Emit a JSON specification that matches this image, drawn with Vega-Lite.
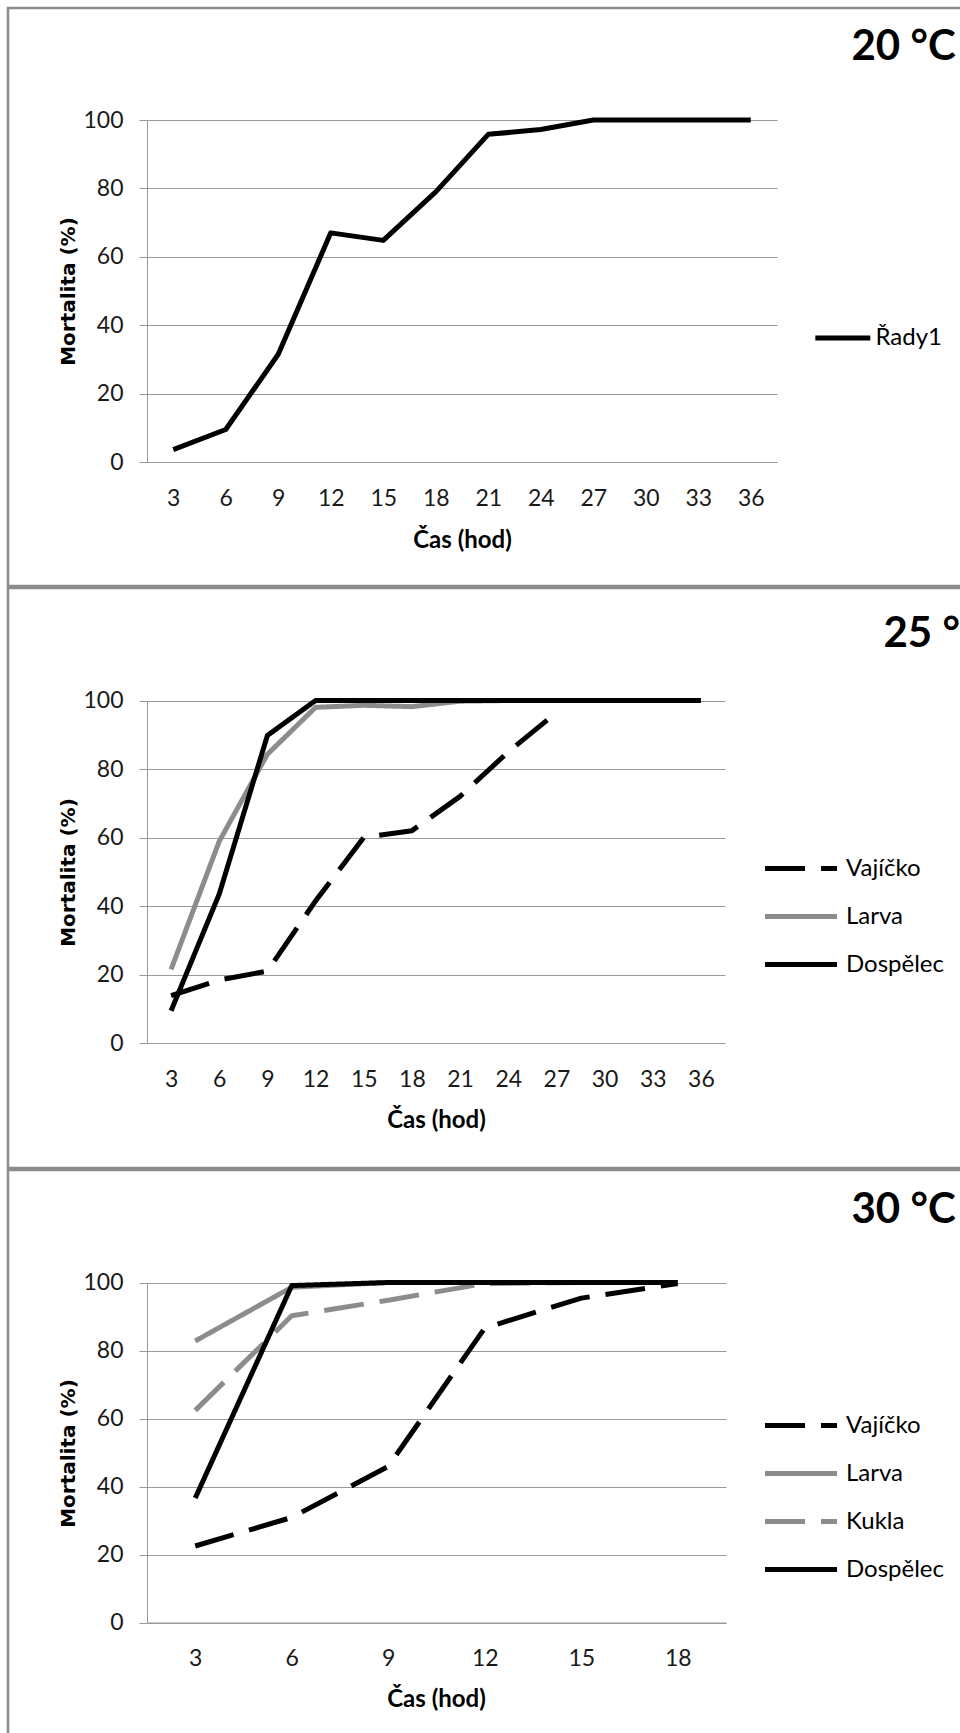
{
  "$schema": "https://vega.github.io/schema/vega-lite/v6.json",
  "background": "white",
  "padding": {"left": 6, "top": 6, "right": 0, "bottom": 0},
  "spacing": -2.5,
  "resolve": {
    "scale": {"color": "independent", "strokeDash": "independent", "x": "independent", "y": "independent"},
    "legend": {"color": "independent", "strokeDash": "independent"}
  },
  "config": {
    "view": {"stroke": "#8c8c8c", "strokeWidth": 2.5},
    "font": "Lato"
  },
  "datasets": {
    "p20": [
      {"cas": 3, "stadium": "Řady1", "mortalita": 3.6},
      {"cas": 6, "stadium": "Řady1", "mortalita": 9.5},
      {"cas": 9, "stadium": "Řady1", "mortalita": 31.5},
      {"cas": 12, "stadium": "Řady1", "mortalita": 67},
      {"cas": 15, "stadium": "Řady1", "mortalita": 64.8},
      {"cas": 18, "stadium": "Řady1", "mortalita": 79},
      {"cas": 21, "stadium": "Řady1", "mortalita": 95.8},
      {"cas": 24, "stadium": "Řady1", "mortalita": 97.2},
      {"cas": 27, "stadium": "Řady1", "mortalita": 100},
      {"cas": 30, "stadium": "Řady1", "mortalita": 100},
      {"cas": 33, "stadium": "Řady1", "mortalita": 100},
      {"cas": 36, "stadium": "Řady1", "mortalita": 100}
    ],
    "p25": [
      {"cas": 3, "stadium": "Vajíčko", "mortalita": 13.8},
      {"cas": 6, "stadium": "Vajíčko", "mortalita": 18.4},
      {"cas": 9, "stadium": "Vajíčko", "mortalita": 21},
      {"cas": 12, "stadium": "Vajíčko", "mortalita": 41.5},
      {"cas": 15, "stadium": "Vajíčko", "mortalita": 60},
      {"cas": 18, "stadium": "Vajíčko", "mortalita": 62},
      {"cas": 21, "stadium": "Vajíčko", "mortalita": 72},
      {"cas": 24, "stadium": "Vajíčko", "mortalita": 85},
      {"cas": 27, "stadium": "Vajíčko", "mortalita": 96.5},
      {"cas": 3, "stadium": "Larva", "mortalita": 21.5},
      {"cas": 6, "stadium": "Larva", "mortalita": 58.9},
      {"cas": 9, "stadium": "Larva", "mortalita": 84.3},
      {"cas": 12, "stadium": "Larva", "mortalita": 98},
      {"cas": 15, "stadium": "Larva", "mortalita": 98.6},
      {"cas": 18, "stadium": "Larva", "mortalita": 98.2},
      {"cas": 21, "stadium": "Larva", "mortalita": 99.8},
      {"cas": 24, "stadium": "Larva", "mortalita": 100},
      {"cas": 27, "stadium": "Larva", "mortalita": 100},
      {"cas": 30, "stadium": "Larva", "mortalita": 100},
      {"cas": 33, "stadium": "Larva", "mortalita": 100},
      {"cas": 36, "stadium": "Larva", "mortalita": 100},
      {"cas": 3, "stadium": "Dospělec", "mortalita": 9.4},
      {"cas": 6, "stadium": "Dospělec", "mortalita": 43.5},
      {"cas": 9, "stadium": "Dospělec", "mortalita": 89.8},
      {"cas": 12, "stadium": "Dospělec", "mortalita": 100},
      {"cas": 15, "stadium": "Dospělec", "mortalita": 100},
      {"cas": 18, "stadium": "Dospělec", "mortalita": 100},
      {"cas": 21, "stadium": "Dospělec", "mortalita": 100},
      {"cas": 24, "stadium": "Dospělec", "mortalita": 100},
      {"cas": 27, "stadium": "Dospělec", "mortalita": 100},
      {"cas": 30, "stadium": "Dospělec", "mortalita": 100},
      {"cas": 33, "stadium": "Dospělec", "mortalita": 100},
      {"cas": 36, "stadium": "Dospělec", "mortalita": 100}
    ],
    "p30": [
      {"cas": 3, "stadium": "Vajíčko", "mortalita": 22.5},
      {"cas": 6, "stadium": "Vajíčko", "mortalita": 30.9},
      {"cas": 9, "stadium": "Vajíčko", "mortalita": 45.9},
      {"cas": 12, "stadium": "Vajíčko", "mortalita": 86.6},
      {"cas": 15, "stadium": "Vajíčko", "mortalita": 95.4},
      {"cas": 18, "stadium": "Vajíčko", "mortalita": 99.7},
      {"cas": 3, "stadium": "Larva", "mortalita": 82.8},
      {"cas": 6, "stadium": "Larva", "mortalita": 98.6},
      {"cas": 9, "stadium": "Larva", "mortalita": 100},
      {"cas": 12, "stadium": "Larva", "mortalita": 100},
      {"cas": 15, "stadium": "Larva", "mortalita": 100},
      {"cas": 18, "stadium": "Larva", "mortalita": 100},
      {"cas": 3, "stadium": "Kukla", "mortalita": 62.4},
      {"cas": 6, "stadium": "Kukla", "mortalita": 90.2},
      {"cas": 9, "stadium": "Kukla", "mortalita": 94.8},
      {"cas": 12, "stadium": "Kukla", "mortalita": 99.7},
      {"cas": 15, "stadium": "Kukla", "mortalita": 100},
      {"cas": 18, "stadium": "Kukla", "mortalita": 100},
      {"cas": 3, "stadium": "Dospělec", "mortalita": 36.6},
      {"cas": 6, "stadium": "Dospělec", "mortalita": 99.1},
      {"cas": 9, "stadium": "Dospělec", "mortalita": 100},
      {"cas": 12, "stadium": "Dospělec", "mortalita": 100},
      {"cas": 15, "stadium": "Dospělec", "mortalita": 100},
      {"cas": 18, "stadium": "Dospělec", "mortalita": 100}
    ]
  },
  "vconcat": [
    {
      "width": 960,
      "height": 578,
      "data": {"name": "p20"},
      "resolve": {"axis": {"x": "independent"}},
      "layer": [
        {
          "mark": {"type": "line", "strokeWidth": 5, "strokeJoin": "round"},
          "encoding": {
            "x": {
              "field": "cas", "type": "ordinal",
              "scale": {"type": "point", "padding": 0.5, "domain": [3, 6, 9, 12, 15, 18, 21, 24, 27, 30, 33, 36], "range": [139, 769]},
              "axis": {"orient": "bottom", "title": "Čas (hod)", "offset": -124, "grid": false, "ticks": false, "tickSize": 0, "labelPadding": 25, "labelAngle": 0, "domainColor": "#999999", "domainWidth": 1, "labelFont": "Lato", "labelFontSize": 23, "labelColor": "#1a1a1a", "titleFont": "Lato", "titleFontWeight": "bold", "titleFontSize": 24, "titleColor": "#000", "titleX": 454, "titleY": 78, "titleBaseline": "middle", "titleAlign": "center"}
            },
            "y": {
              "field": "mortalita", "type": "quantitative",
              "scale": {"domain": [0, 100], "nice": false, "range": [454, 112]},
              "axis": {"title": "Mortalita (%)", "values": [0, 20, 40, 60, 80, 100], "offset": -139, "grid": true, "gridColor": "#999999", "gridWidth": 1, "domainColor": "#999999", "tickColor": "#999999", "tickSize": 8, "labelPadding": 16, "labelFont": "Lato", "labelFontSize": 23, "labelColor": "#1a1a1a", "titleFont": "DejaVu Sans", "titleFontSize": 20, "titleFontWeight": "bold", "titleColor": "#000", "titleX": -79, "titleY": 283, "titleBaseline": "middle", "titleAlign": "center", "titleAngle": -90}
            },
            "color": {
              "field": "stadium", "type": "nominal",
              "scale": {"domain": ["Řady1"], "range": ["#000000"]},
              "legend": {"orient": "none", "legendX": 804.5, "legendY": 318, "title": null, "padding": 0, "symbolType": "M-1,0H5", "symbolSize": 336, "symbolStrokeWidth": 5, "labelFont": "Lato", "labelFontSize": 24, "labelColor": "#000", "labelOffset": 39, "rowPadding": 21}
            }
          }
        },
        {
          "mark": {"type": "point", "opacity": 0},
          "encoding": {
            "x": {
              "field": "cas", "type": "ordinal",
              "axis": {"orient": "top", "title": "20 °C", "offset": 0, "labels": false, "ticks": false, "domain": false, "grid": false, "titleFont": "Lato", "titleFontSize": 42, "titleFontWeight": "bold", "titleColor": "#000", "titleX": 843, "titleY": 51, "titleAlign": "left", "titleBaseline": "alphabetic", "titleAngle": 0}
            }
          }
        }
      ]
    },
    {
      "width": 960,
      "height": 580,
      "data": {"name": "p25"},
      "resolve": {"axis": {"x": "independent"}},
      "layer": [
        {
          "mark": {"type": "line", "strokeWidth": 5, "strokeJoin": "round"},
          "encoding": {
            "x": {
              "field": "cas", "type": "ordinal",
              "scale": {"type": "point", "padding": 0.5, "domain": [3, 6, 9, 12, 15, 18, 21, 24, 27, 30, 33, 36], "range": [139, 717]},
              "axis": {"orient": "bottom", "title": "Čas (hod)", "offset": -125, "grid": false, "ticks": false, "tickSize": 0, "labelPadding": 25, "labelAngle": 0, "domainColor": "#999999", "domainWidth": 1, "labelFont": "Lato", "labelFontSize": 23, "labelColor": "#1a1a1a", "titleFont": "Lato", "titleFontWeight": "bold", "titleFontSize": 24, "titleColor": "#000", "titleX": 428, "titleY": 77, "titleBaseline": "middle", "titleAlign": "center"}
            },
            "y": {
              "field": "mortalita", "type": "quantitative",
              "scale": {"domain": [0, 100], "nice": false, "range": [455, 112.5]},
              "axis": {"title": "Mortalita (%)", "values": [0, 20, 40, 60, 80, 100], "offset": -139, "grid": true, "gridColor": "#999999", "gridWidth": 1, "domainColor": "#999999", "tickColor": "#999999", "tickSize": 8, "labelPadding": 16, "labelFont": "Lato", "labelFontSize": 23, "labelColor": "#1a1a1a", "titleFont": "DejaVu Sans", "titleFontSize": 20, "titleFontWeight": "bold", "titleColor": "#000", "titleX": -79, "titleY": 284, "titleBaseline": "middle", "titleAlign": "center", "titleAngle": -90}
            },
            "color": {
              "field": "stadium", "type": "nominal",
              "scale": {"domain": ["Vajíčko", "Larva", "Dospělec"], "range": ["#000000", "#8c8c8c", "#000000"]},
              "legend": {"orient": "none", "legendX": 754.5, "legendY": 266, "title": null, "padding": 0, "symbolType": "M-1,0H5", "symbolSize": 576, "symbolStrokeWidth": 5, "labelFont": "Lato", "labelFontSize": 24, "labelColor": "#000", "labelOffset": 54.5, "rowPadding": 21}
            },
            "strokeDash": {
              "field": "stadium", "type": "nominal",
              "scale": {"domain": ["Vajíčko", "Larva", "Dospělec"], "range": [[40, 16], [1, 0], [1, 0]]},
              "legend": {"orient": "none", "legendX": 754.5, "legendY": 266, "title": null, "padding": 0, "symbolType": "M-1,0H5", "symbolSize": 576, "symbolStrokeWidth": 5, "labelFont": "Lato", "labelFontSize": 24, "labelColor": "#000", "labelOffset": 54.5, "rowPadding": 21}
            }
          }
        },
        {
          "mark": {"type": "point", "opacity": 0},
          "encoding": {
            "x": {
              "field": "cas", "type": "ordinal",
              "axis": {"orient": "top", "title": "25 °C", "offset": 0, "labels": false, "ticks": false, "domain": false, "grid": false, "titleFont": "Lato", "titleFontSize": 42, "titleFontWeight": "bold", "titleColor": "#000", "titleX": 875, "titleY": 58, "titleAlign": "left", "titleBaseline": "alphabetic", "titleAngle": 0}
            }
          }
        }
      ]
    },
    {
      "width": 960,
      "height": 580,
      "data": {"name": "p30"},
      "resolve": {"axis": {"x": "independent"}},
      "layer": [
        {
          "mark": {"type": "line", "strokeWidth": 5, "strokeJoin": "round"},
          "encoding": {
            "x": {
              "field": "cas", "type": "ordinal",
              "scale": {"type": "point", "padding": 0.5, "domain": [3, 6, 9, 12, 15, 18], "range": [139, 718]},
              "axis": {"orient": "bottom", "title": "Čas (hod)", "offset": -127.5, "grid": false, "ticks": false, "tickSize": 0, "labelPadding": 25, "labelAngle": 0, "domainColor": "#999999", "domainWidth": 1, "labelFont": "Lato", "labelFontSize": 23, "labelColor": "#1a1a1a", "titleFont": "Lato", "titleFontWeight": "bold", "titleFontSize": 24, "titleColor": "#000", "titleX": 428, "titleY": 77, "titleBaseline": "middle", "titleAlign": "center"}
            },
            "y": {
              "field": "mortalita", "type": "quantitative",
              "scale": {"domain": [0, 100], "nice": false, "range": [452.5, 112.5]},
              "axis": {"title": "Mortalita (%)", "values": [0, 20, 40, 60, 80, 100], "offset": -139, "grid": true, "gridColor": "#999999", "gridWidth": 1, "domainColor": "#999999", "tickColor": "#999999", "tickSize": 8, "labelPadding": 16, "labelFont": "Lato", "labelFontSize": 23, "labelColor": "#1a1a1a", "titleFont": "DejaVu Sans", "titleFontSize": 20, "titleFontWeight": "bold", "titleColor": "#000", "titleX": -79, "titleY": 283, "titleBaseline": "middle", "titleAlign": "center", "titleAngle": -90}
            },
            "color": {
              "field": "stadium", "type": "nominal",
              "scale": {"domain": ["Vajíčko", "Larva", "Kukla", "Dospělec"], "range": ["#000000", "#8c8c8c", "#8c8c8c", "#000000"]},
              "legend": {"orient": "none", "legendX": 754.5, "legendY": 241, "title": null, "padding": 0, "symbolType": "M-1,0H5", "symbolSize": 576, "symbolStrokeWidth": 5, "labelFont": "Lato", "labelFontSize": 24, "labelColor": "#000", "labelOffset": 54.5, "rowPadding": 21}
            },
            "strokeDash": {
              "field": "stadium", "type": "nominal",
              "scale": {"domain": ["Vajíčko", "Larva", "Kukla", "Dospělec"], "range": [[40, 16], [1, 0], [40, 16], [1, 0]]},
              "legend": {"orient": "none", "legendX": 754.5, "legendY": 241, "title": null, "padding": 0, "symbolType": "M-1,0H5", "symbolSize": 576, "symbolStrokeWidth": 5, "labelFont": "Lato", "labelFontSize": 24, "labelColor": "#000", "labelOffset": 54.5, "rowPadding": 21}
            }
          }
        },
        {
          "mark": {"type": "point", "opacity": 0},
          "encoding": {
            "x": {
              "field": "cas", "type": "ordinal",
              "axis": {"orient": "top", "title": "30 °C", "offset": 0, "labels": false, "ticks": false, "domain": false, "grid": false, "titleFont": "Lato", "titleFontSize": 42, "titleFontWeight": "bold", "titleColor": "#000", "titleX": 843, "titleY": 52, "titleAlign": "left", "titleBaseline": "alphabetic", "titleAngle": 0}
            }
          }
        }
      ]
    }
  ]
}
